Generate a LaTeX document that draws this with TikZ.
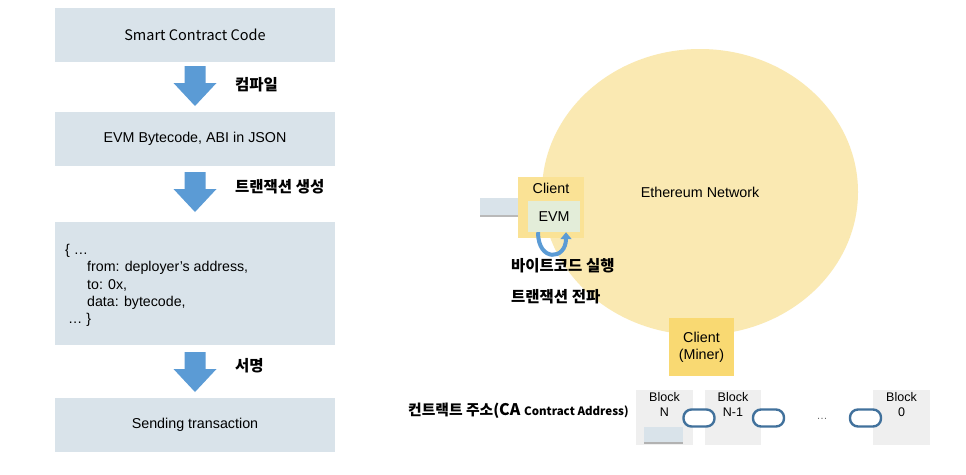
\documentclass[tikz,border=0pt]{standalone}
\usepackage{fontspec}
\setmainfont{Liberation Sans}
\newfontfamily\kr{Noto Sans CJK KR}
\usetikzlibrary{positioning, arrows.meta, shapes.geometric, shadows}

\definecolor{boxgray}{HTML}{D9E3EA}
\definecolor{arrowblue}{HTML}{5B9BD5}
\definecolor{netyellow}{HTML}{FAE9B2}
\definecolor{clientyellow}{HTML}{F9D972}
\definecolor{evmgreen}{HTML}{E3EDD9}
\definecolor{blockgray}{HTML}{EFEFEF}
\definecolor{linkblue}{HTML}{41719C}

\begin{document}
\begin{tikzpicture}[
  x=1pt, y=-1pt,
  font=\fontsize{14.3}{17}\selectfont,
  box/.style={inner sep=0pt, align=center},
  lbox/.style={box, fill=boxgray, minimum width=280pt, minimum height=54pt},
  bar/.style={box, fill=boxgray, drop shadow={shadow xshift=0pt, shadow yshift=-2pt, opacity=.55}},
  client/.style={box, fill=clientyellow},
  evmbox/.style={box, fill=evmgreen},
  blockbox/.style={box, fill=blockgray, minimum width=57pt, minimum height=55pt},
  blocklbl/.style={anchor=north, align=center, inner sep=2.5pt, font=\fontsize{12.5}{15}\selectfont},
  link/.style={draw=linkblue, line width=2.4pt, fill=white, rounded corners=8pt,
               minimum width=31pt, minimum height=17pt, inner sep=0pt},
  klabel/.style={font=\kr\bfseries\fontsize{15.5}{18}\selectfont, inner sep=0pt},
  dnarrow/.pic={\fill[arrowblue] (-10.5,-20) -- (10.5,-20) -- (10.5,-3) -- (21.5,-3)
                -- (0,20) -- (-21.5,-3) -- (-10.5,-3) -- cycle;},
]
  \useasboundingbox[fill=white] (0,0) rectangle (966,474);

  % --- left column: deployment steps ---
  \node[lbox, font=\kr\fontsize{14.5}{17}\selectfont] (code) at (195,35) {Smart Contract Code};
  \node[lbox] (bytecode) at (195,139) {EVM Bytecode, ABI in JSON};
  \node[lbox, minimum height=123pt] (tx) at (195,283.5) {};
  \node[anchor=west, align=left, inner sep=0pt, font=\fontsize{14.2}{17.3}\selectfont]
    (txtext) at (65,285.5)
    {\{ \dots\\
     \hspace*{22pt}from: deployer's address,\\
     \hspace*{22pt}to: 0x,\\
     \hspace*{22pt}data: bytecode,\\
     \hspace*{3pt}\dots\ \}};
  \node[lbox] (send) at (195,425) {Sending transaction};

  \pic at (195,86) {dnarrow};
  \pic at (195,192) {dnarrow};
  \pic at (195,372) {dnarrow};
  \node[klabel, anchor=west] (compile) at (235,85) {컴파일};
  \node[klabel, anchor=west] (mktx) at (235,187) {트랜잭션 생성};
  \node[klabel, anchor=west] (sign) at (235,366) {서명};

  % --- right side: network ---
  \node[ellipse, fill=netyellow, minimum width=316pt, minimum height=286pt, inner sep=0pt]
    (net) at (700,192) {Ethereum Network};

  \node[bar, minimum width=40pt, minimum height=17pt] (txbar) at (500,206.5) {};
  \node[client, fill=clientyellow!75!white, minimum width=66pt, minimum height=61pt,
        label={[anchor=north, inner sep=6pt]north:Client}] (client) at (551,207.5) {};
  \node[evmbox, minimum width=52pt, minimum height=31pt] (evm) at (554,216.5) {EVM};
  \draw[arrowblue, line width=4pt, -{Triangle[length=7pt, width=11pt]}]
    ([xshift=-16pt]evm.south) .. controls +(0,30) and +(0,28) .. ([xshift=12pt]evm.south);

  \node[klabel, anchor=west] (run) at (511,266) {바이트코드 실행};
  \node[klabel, anchor=west] (spread) at (511,297) {트랜잭션 전파};

  \node[client, minimum width=65pt, minimum height=58pt] (miner) at (701.5,347) {Client\\(Miner)};

  % --- blockchain ---
  \node[klabel, anchor=west, font=\kr\bfseries\fontsize{14.8}{18}\selectfont] (ca) at (408,411)
    {컨트랙트 주소(\fontsize{16}{17}\selectfont CA \fontsize{11.5}{17}\selectfont Contract Address)};

  \node[blockbox, label={[blocklbl]north:Block\\N}] (blkN) at (664.5,417.5) {};
  \node[blockbox, minimum width=56pt, label={[blocklbl]north:Block\\N-1}] (blkN1) at (733,417.5) {};
  \node[blockbox, label={[blocklbl]north:Block\\0}] (blk0) at (901.5,417.5) {};
  \node[bar, minimum width=39pt, minimum height=15pt] (cabar) at (663.5,434.5) {};

  \node[link] (link1) at (699,418) {};
  \node[link] (link2) at (768.5,418) {};
  \node[link] (link3) at (865.5,418) {};
  \node[font=\fontsize{11}{13}\selectfont, text=black!60] (dots) at (822,419) {\dots};
\end{tikzpicture}
\end{document}
